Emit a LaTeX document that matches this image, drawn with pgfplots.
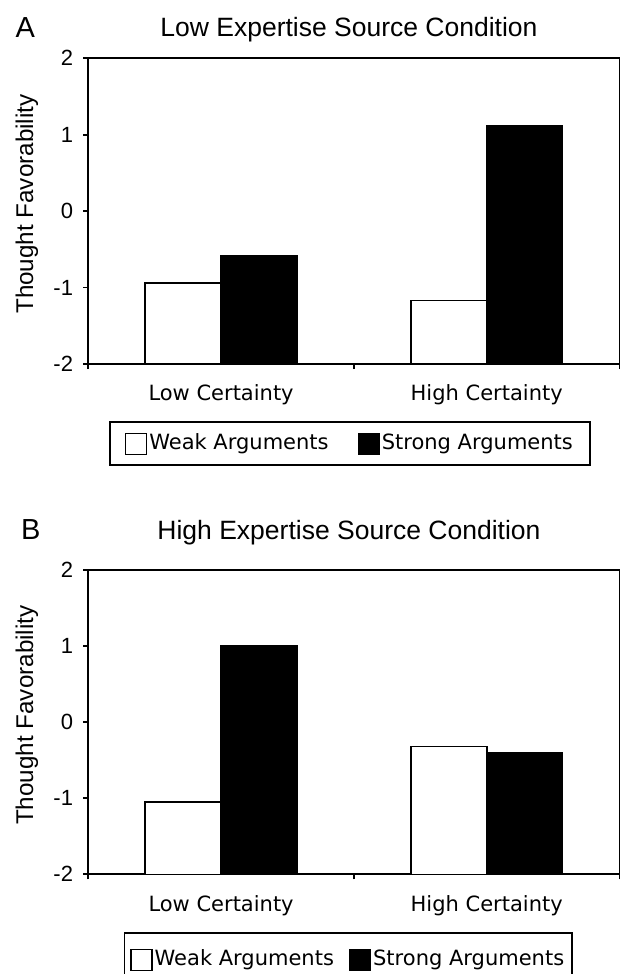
\documentclass[border=0pt]{standalone}
\usepackage{fontspec}
\setmainfont{Liberation Sans}
\newfontfamily\geneva{DejaVu Sans}
\usepackage{pgfplots}
\usepackage{pgfplotstable}
\pgfplotsset{compat=1.18}

% values (Thought Favorability)
\pgfplotstableread{
x weak strong
0 -0.94 -0.59
1 -1.17 1.12
}\dataA
\pgfplotstableread{
x weak strong
0 -1.05 1.01
1 -0.32 -0.40
}\dataB

\pgfplotsset{
  panel/.style={
    scale only axis,
    width=265.6pt,
    anchor=south west,
    xmin=-0.5, xmax=1.5,
    ymin=0, ymax=4,
    ytick={0,1,2,3,4},
    yticklabels={-2,-1,0,1,2},
    xtick={-0.5,0.5,1.5},
    xticklabels={},
    extra x ticks={0,1},
    extra x tick labels={Low Certainty,High Certainty},
    tick align=outside,
    xtick pos=left, ytick pos=left,
    major tick length=2.5pt,
    axis line style={line width=0.85pt},
    every tick/.style={black, line width=0.85pt},
    yticklabel style={font=\fontsize{11}{13}\selectfont, xshift=-1.6pt},
    every axis y label/.style={at={(axis description cs:-0.1041,0.523)}, rotate=90, anchor=base, font=\fontsize{12.1}{14}\selectfont},
    ylabel={Thought Favorability},
    legend columns=2,
  },
  weakbar/.style={ybar, bar width=0.286, bar shift=-0.143, fill=white, draw=black, line width=0.8pt,
    legend image code/.code={\draw[black, fill=white, line width=0.6pt] (0pt,-5.25pt) rectangle (10.5pt,5.25pt);}},
  strongbar/.style={ybar, bar width=0.286, bar shift=0.143, fill=black, draw=black, line width=0.8pt,
    legend image code/.code={\draw[black, fill=black, line width=0.6pt] (0pt,-5.25pt) rectangle (10.5pt,5.25pt);}},
}

\begin{document}
\begin{tikzpicture}
\path[use as bounding box] (0,0) rectangle (310.5pt,-487pt);

% Panel A
\begin{axis}[panel,
  at={(44.15pt,-182pt)},
  height=152.85pt,
  extra x tick style={major tick length=0pt, xticklabel style={font=\geneva\fontsize{10.5}{12}\selectfont, anchor=base, yshift=-18.15pt}},
  title={Low Expertise Source Condition},
  every axis title/.style={at={(axis description cs:0.4907,1)}, anchor=base, yshift=10.95pt, font=\fontsize{13.25}{16}\selectfont},
  legend style={at={(axis description cs:0.0395,-0.188)}, anchor=north west, draw=black, line width=0.85pt,
    font=\geneva\fontsize{10.5}{12}\selectfont, inner xsep=7.5pt, inner ysep=4.5pt,
    nodes={inner sep=1pt, text height=8pt, text depth=2.5pt},
    /tikz/every even column/.append style={column sep=13.5pt}},
]
\addplot[weakbar] table[x=x, y expr=\thisrow{weak}+2] {\dataA};
\addlegendentry{Weak Arguments}
\addplot[strongbar] table[x=x, y expr=\thisrow{strong}+2] {\dataA};
\addlegendentry{Strong Arguments}
\end{axis}

% Panel B
\begin{axis}[panel,
  at={(44.15pt,-437.15pt)},
  height=152.15pt,
  extra x tick style={major tick length=0pt, xticklabel style={font=\geneva\fontsize{10.5}{12}\selectfont, anchor=base, yshift=-18.7pt}},
  title={High Expertise Source Condition},
  every axis title/.style={at={(axis description cs:0.4907,1)}, anchor=base, yshift=15.2pt, font=\fontsize{13.25}{16}\selectfont},
  legend style={at={(axis description cs:0.0665,-0.191)}, anchor=north west, draw=black, line width=0.85pt,
    font=\geneva\fontsize{10.5}{12}\selectfont, inner xsep=3pt, inner ysep=7.3pt,
    nodes={inner sep=1pt, text height=8pt, text depth=2.5pt},
    /tikz/every even column/.append style={column sep=6.5pt}},
]
\addplot[weakbar] table[x=x, y expr=\thisrow{weak}+2] {\dataB};
\addlegendentry{Weak Arguments}
\addplot[strongbar] table[x=x, y expr=\thisrow{strong}+2] {\dataB};
\addlegendentry{Strong Arguments}
\end{axis}

\node[anchor=base west, inner sep=0pt, font=\fontsize{14.5}{17}\selectfont] at (7.6pt,-18.65pt) {A};
\node[anchor=base west, inner sep=0pt, font=\fontsize{14.5}{17}\selectfont] at (10.4pt,-269.65pt) {B};
\end{tikzpicture}
\end{document}
